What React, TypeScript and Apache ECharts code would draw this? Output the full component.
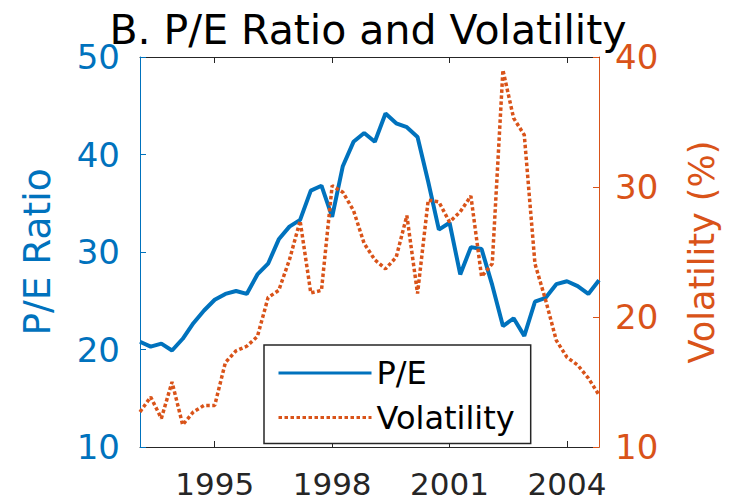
import React, { useEffect, useRef } from 'react';
import * as echarts from 'echarts';

// Decimal-year positions of the observations (≈100-day spacing)
const categories = [
  '1993.08', '1993.35', '1993.63', '1993.90', '1994.18', '1994.45', '1994.73', '1995.00',
  '1995.27', '1995.55', '1995.82', '1996.10', '1996.37', '1996.65', '1996.92', '1997.20',
  '1997.47', '1997.75', '1998.02', '1998.29', '1998.57', '1998.84', '1999.12', '1999.39',
  '1999.67', '1999.94', '2000.22', '2000.49', '2000.76', '2001.04', '2001.31', '2001.59',
  '2001.86', '2002.14', '2002.41', '2002.69', '2002.96', '2003.24', '2003.51', '2003.78',
  '2004.06', '2004.33', '2004.61', '2004.88',
];

const peRatio = [
  20.8, 20.3, 20.6, 19.9, 21.1, 22.7, 24.0, 25.1, 25.7, 26.0,
  25.7, 27.7, 28.8, 31.3, 32.6, 33.3, 36.3, 36.8, 33.6, 38.8,
  41.3, 42.2, 41.3, 44.2, 43.2, 42.8, 41.8, 37.2, 32.3, 33.0,
  27.7, 30.5, 30.3, 26.6, 22.4, 23.2, 21.4, 24.9, 25.3, 26.7,
  27.0, 26.5, 25.7, 27.1,
];

const volatility = [
  12.7, 13.85, 12.2, 15.0, 11.7, 12.7, 13.2, 13.2, 16.5, 17.4,
  17.75, 18.5, 21.5, 22.05, 24.4, 27.4, 21.85, 22.05, 30.1, 29.6,
  28.2, 25.65, 24.4, 23.7, 24.6, 27.8, 21.8, 29.0, 28.85, 27.3,
  28.1, 29.3, 23.1, 24.1, 39.0, 35.3, 34.0, 24.1, 21.3, 18.2,
  16.9, 16.3, 15.3, 14.0,
];

const xTickIndex = [7, 18, 29, 40];
const xTickLabels = ['1995', '1998', '2001', '2004'];

const seriesNames = ['P/E', 'Volatility'];
const titleText = 'B. P/E Ratio and Volatility';
const leftAxisName = 'P/E Ratio';
const rightAxisName = 'Volatility (%)';

export default function App() {
  const ref = useRef<HTMLDivElement>(null);

  useEffect(() => {
    if (!ref.current) return;
    const chart = echarts.init(ref.current, null, { renderer: 'svg' });
    const BLUE = '#0072BD';
    const ORANGE = '#D95319';
    const DARK = '#262626';
    const FONT = 'DejaVu Sans';
    const isTick = (i: number) => xTickIndex.indexOf(i) >= 0;

    chart.setOption({
      animation: false,
      backgroundColor: '#ffffff',
      title: {
        text: titleText,
        left: 'center',
        top: 16,
        padding: 0,
        textStyle: {
          fontSize: 41,
          lineHeight: 28,
          fontWeight: 'normal',
          fontFamily: FONT,
          color: '#000',
        },
      },
      grid: {
        left: 140,
        right: 137,
        top: 57,
        bottom: 55,
        containLabel: false,
        outerBoundsMode: 'none',
      },
      legend: {
        data: seriesNames,
        orient: 'vertical',
        left: 264,
        top: 345,
        padding: [12, 16, 10, 13],
        itemWidth: 93,
        itemHeight: 4,
        itemGap: 12.5,
        backgroundColor: '#ffffff',
        borderColor: DARK,
        borderWidth: 1.5,
        borderRadius: 0,
        itemStyle: { opacity: 0 },
        lineStyle: { width: 3 },
        textStyle: { fontSize: 32, fontFamily: FONT, color: '#000' },
      },
      xAxis: [
        {
          type: 'category',
          data: categories,
          boundaryGap: false,
          position: 'bottom',
          axisLine: { show: true, lineStyle: { color: DARK, width: 1 } },
          axisTick: {
            show: true,
            inside: true,
            length: 6,
            interval: (i: number) => isTick(i),
            lineStyle: { color: DARK },
          },
          axisLabel: {
            interval: (i: number) => isTick(i),
            formatter: (_v: string, i: number) => {
              const k = xTickIndex.indexOf(i);
              return k >= 0 ? xTickLabels[k] : '';
            },
            fontSize: 31,
            fontFamily: FONT,
            color: DARK,
            margin: 21,
            hideOverlap: false,
          },
          splitLine: { show: false },
        },
        {
          type: 'category',
          data: categories,
          boundaryGap: false,
          position: 'top',
          axisLine: { show: true, lineStyle: { color: DARK, width: 1 } },
          axisTick: {
            show: true,
            inside: true,
            length: 6,
            interval: (i: number) => isTick(i),
            lineStyle: { color: DARK },
          },
          axisLabel: { show: false },
          splitLine: { show: false },
        },
      ],
      yAxis: [
        {
          type: 'value',
          position: 'left',
          min: 10,
          max: 50,
          interval: 10,
          axisLine: { show: true, lineStyle: { color: BLUE, width: 1 } },
          axisTick: { show: true, inside: true, length: 6, lineStyle: { color: BLUE } },
          axisLabel: { fontSize: 34, lineHeight: 24, fontFamily: FONT, color: BLUE, margin: 20 },
          splitLine: { show: false },
          name: leftAxisName,
          nameLocation: 'middle',
          nameRotate: 90,
          nameGap: 84,
          nameMoveOverlap: false,
          nameTextStyle: { fontSize: 37.5, fontFamily: FONT, color: BLUE },
        },
        {
          type: 'value',
          position: 'right',
          min: 10,
          max: 40,
          interval: 10,
          axisLine: { show: true, lineStyle: { color: ORANGE, width: 1 } },
          axisTick: { show: true, inside: true, length: 6, lineStyle: { color: ORANGE } },
          axisLabel: { fontSize: 34, lineHeight: 24, fontFamily: FONT, color: ORANGE, margin: 16 },
          splitLine: { show: false },
          name: rightAxisName,
          nameLocation: 'middle',
          nameRotate: 90,
          nameGap: 85,
          nameMoveOverlap: false,
          nameTextStyle: { fontSize: 35, fontFamily: FONT, color: ORANGE },
        },
      ],
      series: [
        {
          name: seriesNames[0],
          type: 'line',
          xAxisIndex: 0,
          yAxisIndex: 0,
          data: peRatio,
          symbol: 'none',
          lineStyle: { color: BLUE, width: 4 },
          itemStyle: { color: BLUE },
          z: 2,
        },
        {
          name: seriesNames[1],
          type: 'line',
          xAxisIndex: 0,
          yAxisIndex: 1,
          data: volatility,
          symbol: 'none',
          lineStyle: { color: ORANGE, width: 3.5, type: [3.5, 2.5] },
          itemStyle: { color: ORANGE },
          z: 3,
        },
      ],
    });

    return () => chart.dispose();
  }, []);

  return (
    <div
      ref={ref}
      style={{ position: 'fixed', left: 0, top: 0, width: 736, height: 502, background: '#fff' }}
    />
  );
}
